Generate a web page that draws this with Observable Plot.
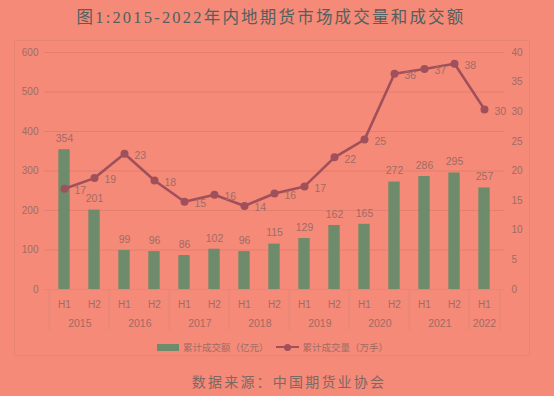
<!DOCTYPE html>
<html>
<head>
<meta charset="utf-8">
<script src="https://cdn.jsdelivr.net/npm/d3@7"></script>
<script src="https://cdn.jsdelivr.net/npm/@observablehq/plot@0.6"></script>
<style>
  html, body { margin: 0; padding: 0; }
  body { width: 554px; height: 396px; background: #F58A78; position: relative; overflow: hidden; font-family: "Liberation Sans", "Noto Sans CJK SC", sans-serif; }
  #title { position: absolute; left: 0; top: 4px; width: 542px; text-align: center; font-family: "Liberation Serif", "Noto Sans CJK SC", serif; font-size: 16.5px; letter-spacing: 2.2px; color: #52605f; font-weight: normal; }
  #frame { position: absolute; left: 14px; top: 40px; width: 516px; height: 316px; border: 1px solid #e88474; box-sizing: border-box; }
  #chart { position: absolute; left: 0; top: 30px; }
  #legend { position: absolute; top: 340px; left: 157px; font-family: "Noto Sans CJK SC", sans-serif; font-size: 9.5px; color: #a06c64; display: flex; align-items: center; white-space: nowrap; }
  #legend .sw { display: inline-block; width: 22px; height: 7px; background: #6E8C6C; margin-right: 4px; }
  #legend .ln { display: inline-block; position: relative; width: 23px; height: 2px; background: #A0505A; margin: 0 4px 0 7px; }
  #legend .ln::after { content: ""; position: absolute; left: 8px; top: -2.5px; width: 7px; height: 7px; border-radius: 50%; background: #A0505A; }
  #source { position: absolute; top: 371px; left: 0; width: 578px; text-align: center; font-family: "Noto Sans CJK SC", sans-serif; font-size: 14px; letter-spacing: 2.2px; color: #7d6863; }
</style>
</head>
<body>
<div id="frame"></div>
<div id="title">图1:2015-2022年内地期货市场成交量和成交额</div>
<div id="chart"></div>
<div id="legend"><span class="sw"></span>累计成交额（亿元）<span class="ln"></span>累计成交量（万手）</div>
<div id="source">数据来源：中国期货业协会</div>
<script>
const years   = ["2015","2015","2016","2016","2017","2017","2018","2018","2019","2019","2020","2020","2021","2021","2022"];
const halves  = ["H1","H2","H1","H2","H1","H2","H1","H2","H1","H2","H1","H2","H1","H2","H1"];
const amount  = [354, 201, 99, 96, 86, 102, 96, 115, 129, 162, 165, 272, 286, 295, 257];   // 亿元
const volume  = [17.0, 18.8, 22.9, 18.4, 14.8, 16.0, 14.1, 16.2, 17.4, 22.3, 25.3, 36.4, 37.2, 38.1, 30.4]; // 万手
const leftTicks  = [0, 100, 200, 300, 400, 500, 600];
const rightTicks = [0, 5, 10, 15, 20, 25, 30, 35, 40];

const ratio = 600 / 40;
const data = years.map((y, i) => ({key: y + halves[i], year: y, half: halves[i], amount: amount[i], volume: volume[i], v: volume[i] * ratio}));
const yearGroups = Array.from(d3.group(data, d => d.year), ([year, arr]) => ({year, first: arr[0].key, n: arr.length}));

const W = 554, H = 303, ML = 44, MR = 50, MT = 22, MB = 44;
const step = (W - ML - MR) / data.length;
const axisColor = "#a06c64";
const gridColor = "#e47f6f";
const sepColor = "#d98b80";

const plot = Plot.plot({
  width: W, height: H,
  marginLeft: ML, marginRight: MR, marginTop: MT, marginBottom: MB,
  style: {background: "transparent", fontFamily: "Liberation Sans, sans-serif", fontSize: "10px", color: axisColor, overflow: "visible"},
  x: {type: "band", domain: data.map(d => d.key), padding: 0, axis: null},
  y: {domain: [0, 600], axis: null},
  marks: [
    Plot.ruleY(leftTicks.filter(t => t > 0), {stroke: gridColor, strokeWidth: 1}),
    Plot.axisY({ticks: leftTicks, anchor: "left", tickSize: 0, tickPadding: 6, fill: axisColor, fontSize: 10}),
    Plot.axisY({ticks: rightTicks.map(t => t * ratio), anchor: "right", tickSize: 0, tickPadding: 7, tickFormat: d => d / ratio, fill: axisColor, fontSize: 10, textAnchor: "start"}),
    Plot.barY(data, {x: "key", y: "amount", fill: "#6E8C6C", insetLeft: (step - 12) / 2, insetRight: (step - 12) / 2}),
    Plot.text(data, {x: "key", y: "amount", text: d => String(d.amount), dy: -11, fill: axisColor, fontSize: 10.5}),
    Plot.ruleY([0], {stroke: sepColor, strokeWidth: 1}),
    // category separators
    Plot.ruleX(yearGroups, {x: "first", y1: 0, y2: -104, dx: -step / 2, stroke: sepColor, strokeWidth: 1}),
    Plot.ruleX([data[data.length - 1]], {x: "key", y1: 0, y2: -104, dx: step / 2, stroke: sepColor, strokeWidth: 1}),
    Plot.text(data, {x: "key", text: "half", frameAnchor: "bottom", lineAnchor: "middle", dy: 15, fill: axisColor, fontSize: 10}),
    Plot.text(yearGroups.filter(g => g.n === 2), {x: "first", text: "year", frameAnchor: "bottom", lineAnchor: "middle", dy: 34, dx: step / 2, fill: axisColor, fontSize: 10.5}),
    Plot.text(yearGroups.filter(g => g.n === 1), {x: "first", text: "year", frameAnchor: "bottom", lineAnchor: "middle", dy: 34, fill: axisColor, fontSize: 10.5}),
    // line
    Plot.line(data, {x: "key", y: "v", stroke: "#A0505A", strokeWidth: 2.6}),
    Plot.dot(data, {x: "key", y: "v", r: 4, fill: "#A0505A", stroke: "none"}),
    Plot.text(data, {x: "key", y: "v", text: d => String(Math.round(d.volume)), dx: 10, dy: 2, textAnchor: "start", fill: axisColor, fontSize: 10.5})
  ]
});

document.getElementById("chart").appendChild(plot);
</script>
</body>
</html>
